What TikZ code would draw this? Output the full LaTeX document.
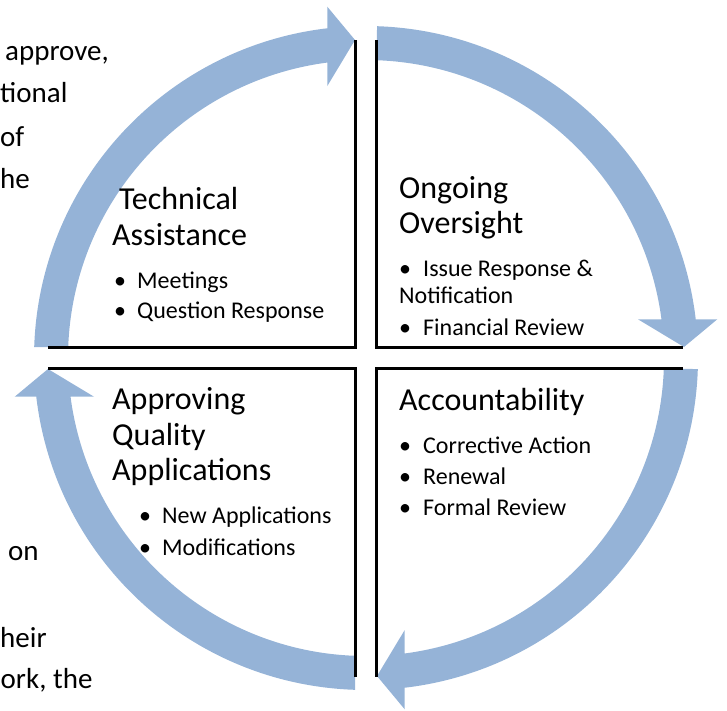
\documentclass[tikz,border=0pt]{standalone}
\usepackage{fontspec}
\setmainfont{Carlito}
\definecolor{ringblue}{RGB}{149,179,215}
\tikzset{
  ring/.style={fill=ringblue},
  boxline/.style={draw=black,line width=3pt},
  ttl/.style={anchor=base west,inner sep=0pt,font=\fontsize{32}{38}\selectfont},
  itm/.style={anchor=base west,inner sep=0pt,font=\fontsize{24}{29}\selectfont},
  side/.style={anchor=base west,inner sep=0pt,font=\fontsize{29}{35}\selectfont},
}
\newcommand\ringarrow[1]{%
  \begin{scope}[shift={(366,-358)},rotate=#1]
    \fill[ring] (178.1:332) arc[start angle=178.1,end angle=96.7,radius=332]
      -- (-38.7,351.3) -- (-11,318) -- (-38.7,272) -- (97.46:298)
      arc[start angle=97.46,end angle=177.9,radius=298] -- cycle;
  \end{scope}}
\begin{document}
\begin{tikzpicture}[x=1pt,y=1pt]
\useasboundingbox (0,0) rectangle (727,-710);
\clip (0,0) rectangle (727,-710);
% side text fragments
\node[side] (s1) at (5,-60) {approve,};
\node[side] (s2) at (0,-102) {tional};
\node[side] (s3) at (0,-146) {of};
\node[side] (s4) at (0,-188) {he};
\node[side] (s5) at (8,-560) {on};
\node[side] (s6) at (0,-647) {heir};
\node[side] (s7) at (0.5,-688) {ork, the};
% ring arrows
\ringarrow{0}
\ringarrow{-90}
\ringarrow{-180}
\ringarrow{-270}
% box lines
\draw[boxline] (355.7,-40) -- (355.7,-347.3) -- (48,-347.3);
\draw[boxline] (376.7,-40) -- (376.7,-347.3) -- (683,-347.3);
\draw[boxline] (48,-368.3) -- (355.7,-368.3) -- (355.7,-677);
\draw[boxline] (683,-368.3) -- (376.7,-368.3) -- (376.7,-677);
% top-left
\node[ttl] (ta1) at (119,-209) {Technical};
\node[ttl] (ta2) at (112,-245) {Assistance};
\node[itm] (tb1) at (114,-288) {•};
\node[itm] (ti1) at (137,-288) {Meetings};
\node[itm] (tb2) at (114,-318) {•};
\node[itm] (ti2) at (137,-318) {Question Response};
% top-right
\node[ttl] (oa1) at (399,-198) {Ongoing};
\node[ttl] (oa2) at (399,-233) {Oversight};
\node[itm] (ob1) at (399,-276) {•};
\node[itm] (oi1) at (423,-276) {Issue Response \&};
\node[itm] (oi1b) at (399,-303) {Notification};
\node[itm] (ob2) at (399,-335) {•};
\node[itm] (oi2) at (423,-335) {Financial Review};
% bottom-left
\node[ttl] (aa1) at (112,-409) {Approving};
\node[ttl] (aa2) at (112,-445) {Quality};
\node[ttl] (aa3) at (112,-480) {Applications};
\node[itm] (ab1) at (139,-523) {•};
\node[itm] (ai1) at (162,-523) {New Applications};
\node[itm] (ab2) at (139,-555) {•};
\node[itm] (ai2) at (162,-555) {Modifications};
% bottom-right
\node[ttl] (ca1) at (399,-410) {Accountability};
\node[itm] (cb1) at (399,-453) {•};
\node[itm] (ci1) at (423,-453) {Corrective Action};
\node[itm] (cb2) at (399,-484) {•};
\node[itm] (ci2) at (423,-484) {Renewal};
\node[itm] (cb3) at (399,-515) {•};
\node[itm] (ci3) at (423,-515) {Formal Review};
\end{tikzpicture}
\end{document}
